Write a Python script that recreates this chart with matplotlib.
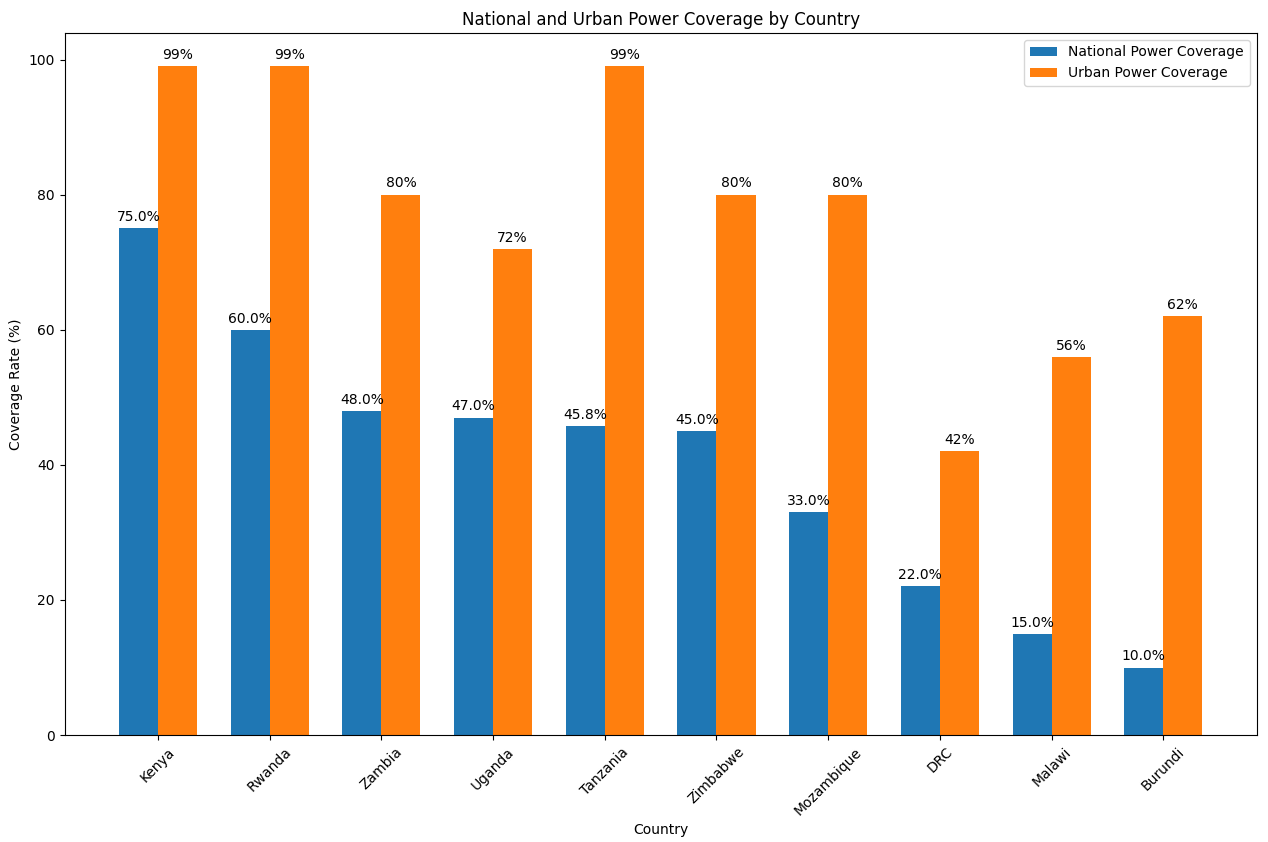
import matplotlib
matplotlib.use("Agg")
import matplotlib.pyplot as plt
import numpy as np

countries = ["Kenya", "Rwanda", "Zambia", "Uganda", "Tanzania", "Zimbabwe", "Mozambique", "DRC", "Malawi", "Burundi"]
national = [75.0, 60.0, 48.0, 47.0, 45.8, 45.0, 33.0, 22.0, 15.0, 10.0]
urban = [99, 99, 80, 72, 99, 80, 80, 42, 56, 62]

fig, ax = plt.subplots(figsize=(12.68, 8.42), dpi=100)
fig.subplots_adjust(left=0.051, right=0.991, top=0.961, bottom=0.127)
x = np.arange(len(countries))
w = 0.35
b1 = ax.bar(x - w/2, national, w, label="National Power Coverage", color="#1f77b4")
b2 = ax.bar(x + w/2, urban, w, label="Urban Power Coverage", color="#ff7f0e")
for r, v in zip(b1, national):
    ax.annotate(f"{v:.1f}%", (r.get_x() + r.get_width()/2, v), xytext=(0, 3),
                textcoords="offset points", ha="center", va="bottom", fontsize=10)
for r, v in zip(b2, urban):
    ax.annotate(f"{v}%", (r.get_x() + r.get_width()/2, v), xytext=(0, 3),
                textcoords="offset points", ha="center", va="bottom", fontsize=10)
ax.set_xticks(x)
ax.set_xticklabels(countries, rotation=45)
ax.set_xlabel("Country")
ax.set_ylabel("Coverage Rate (%)")
ax.set_title("National and Urban Power Coverage by Country")
ax.legend(loc="upper right")
fig.savefig("out.png")
